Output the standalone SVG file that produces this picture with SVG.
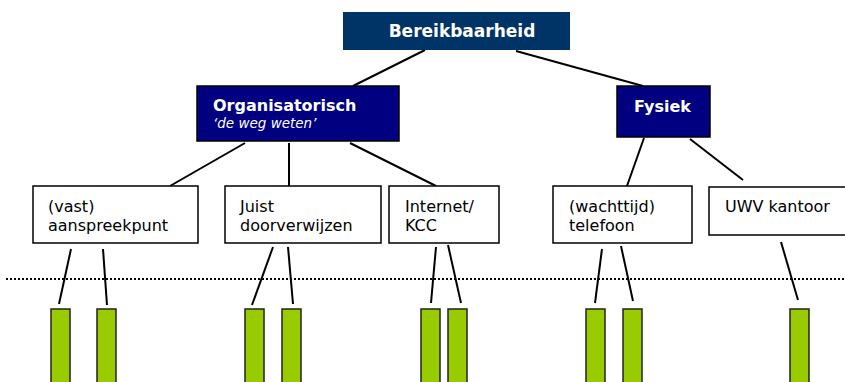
<svg xmlns="http://www.w3.org/2000/svg" width="845" height="382" viewBox="0 0 845 382">
<style>
.t{font-family:"DejaVu Sans","Liberation Sans",sans-serif;font-size:16px;fill:#000}
.w{font-family:"DejaVu Sans","Liberation Sans",sans-serif;font-size:16px;font-weight:bold;fill:#fff}
.i{font-family:"DejaVu Sans","Liberation Sans",sans-serif;font-size:13.5px;font-style:italic;fill:#fff}
.box{fill:#fff;stroke:#000;stroke-width:1.5}
.dark{fill:#000080;stroke:#000;stroke-width:1.5}
.bar{fill:#99cc00;stroke:#222;stroke-width:1.5}
.c line{stroke:#000;stroke-width:2}
</style>
<rect width="845" height="382" fill="#fff"/>
<line x1="6" y1="279" x2="845" y2="279" stroke="#000" stroke-width="2" stroke-dasharray="2,2"/>
<g class="c" id="connectors">
<line x1="425" y1="50" x2="353" y2="86"/>
<line x1="516" y1="51" x2="643" y2="86"/>
<line x1="245" y1="143" x2="170" y2="186"/>
<line x1="289" y1="143" x2="289" y2="187"/>
<line x1="350" y1="143" x2="436" y2="186"/>
<line x1="644" y1="138" x2="627" y2="186"/>
<line x1="690" y1="139" x2="743" y2="180"/>
<line x1="71" y1="249" x2="59" y2="304"/>
<line x1="103" y1="249" x2="107" y2="305"/>
<line x1="273" y1="247" x2="252" y2="305"/>
<line x1="288" y1="247" x2="293" y2="304"/>
<line x1="436" y1="247" x2="431" y2="303"/>
<line x1="448" y1="245" x2="461" y2="303"/>
<line x1="602" y1="249" x2="595" y2="303"/>
<line x1="621" y1="246" x2="633" y2="301"/>
<line x1="781" y1="242" x2="798" y2="300"/>
</g>
<g id="bereikbaarheid">
<rect x="343" y="12" width="227" height="38" fill="#003366"/>
<text class="w" x="462" y="37" text-anchor="middle" style="font-size:17px">Bereikbaarheid</text>
</g>
<g id="organisatorisch">
<rect class="dark" x="197" y="86" width="202" height="55"/>
<text class="w" x="213" y="111">Organisatorisch</text>
<text class="i" x="213" y="128">‘de weg weten’</text>
</g>
<g id="fysiek">
<rect class="dark" x="617" y="86" width="93" height="51"/>
<text class="w" x="634" y="112">Fysiek</text>
</g>
<g id="aanspreekpunt">
<rect class="box" x="33" y="186" width="165" height="57"/>
<text class="t" x="48" y="212">(vast)</text>
<text class="t" x="48" y="231">aanspreekpunt</text>
</g>
<g id="doorverwijzen">
<rect class="box" x="225" y="186" width="156" height="57"/>
<text class="t" x="240" y="212">Juist</text>
<text class="t" x="240" y="231">doorverwijzen</text>
</g>
<g id="internet">
<rect class="box" x="389" y="186" width="110" height="57"/>
<text class="t" x="405" y="212">Internet/</text>
<text class="t" x="405" y="231">KCC</text>
</g>
<g id="telefoon">
<rect class="box" x="553" y="186" width="139" height="57"/>
<text class="t" x="569" y="212">(wachttijd)</text>
<text class="t" x="569" y="231">telefoon</text>
</g>
<g id="uwv">
<rect class="box" x="709" y="187" width="140" height="48"/>
<text class="t" x="725" y="212">UWV kantoor</text>
</g>
<g id="bars">
<rect class="bar" x="51" y="309" width="19" height="80"/>
<rect class="bar" x="97" y="309" width="19" height="80"/>
<rect class="bar" x="245" y="309" width="19" height="80"/>
<rect class="bar" x="282" y="309" width="19" height="80"/>
<rect class="bar" x="421" y="309" width="19" height="80"/>
<rect class="bar" x="448" y="309" width="19" height="80"/>
<rect class="bar" x="586" y="309" width="19" height="80"/>
<rect class="bar" x="623" y="309" width="19" height="80"/>
<rect class="bar" x="790" y="309" width="19" height="80"/>
</g>
</svg>
